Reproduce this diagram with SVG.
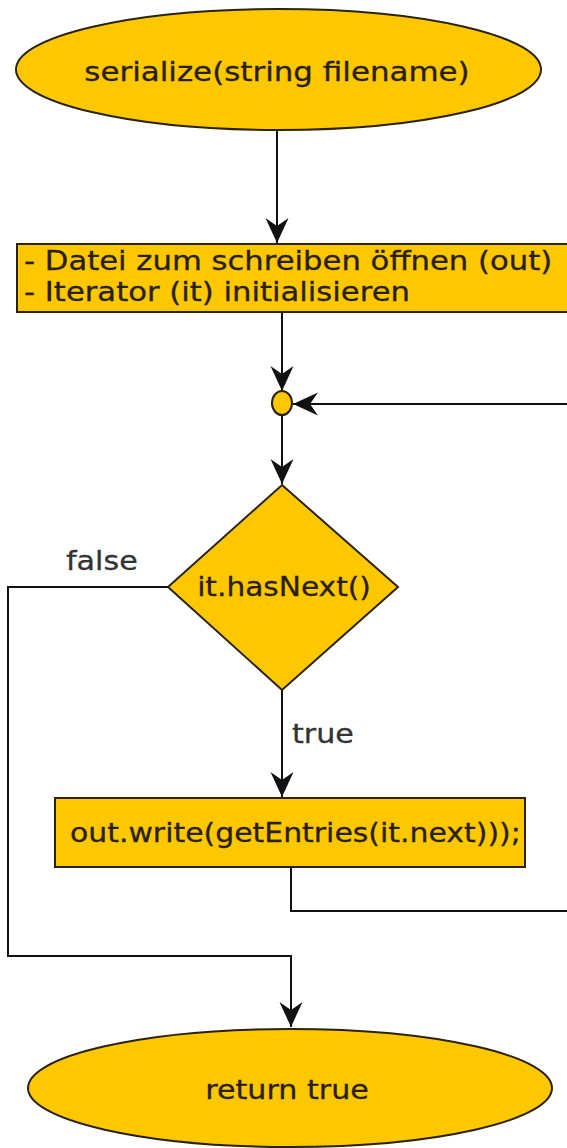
<svg xmlns="http://www.w3.org/2000/svg" width="567" height="1148" viewBox="0 0 567 1148">
<style>
.shape{fill:#fdc800;stroke:#2a2200;stroke-width:2}
.conn{fill:none;stroke:#111;stroke-width:2}
.t{font-family:"DejaVu Sans",Verdana,sans-serif;font-size:26px;fill:#2a2000;stroke:#2a2000;stroke-width:0.3}
.lbl{font-family:"DejaVu Sans",Verdana,sans-serif;font-size:26px;fill:#333;stroke:#333;stroke-width:0.3}
</style>
<defs>
<marker id="arr" markerUnits="userSpaceOnUse" markerWidth="28" markerHeight="26" viewBox="-26 -13 28 26" refX="0" refY="0" orient="auto">
<path d="M0,0 L-25,-11.5 L-17,0 L-25,11.5 Z" fill="#111"/>
</marker>
</defs>
<rect width="567" height="1148" fill="#fff"/>
<g id="connectors">
<path class="conn" d="M277,130 V243" marker-end="url(#arr)"/>
<path class="conn" d="M282,312 V391" marker-end="url(#arr)"/>
<path class="conn" d="M567,404 H293" marker-end="url(#arr)"/>
<path class="conn" d="M282,415 V484" marker-end="url(#arr)"/>
<path class="conn" d="M168,587 H8 V956 H291 V1027" marker-end="url(#arr)"/>
<path class="conn" d="M282,690 V797" marker-end="url(#arr)"/>
<path class="conn" d="M291,867 V911 H567"/>
<text class="lbl" transform="translate(66,570) scale(1.16,1)">false</text>
<text class="lbl" transform="translate(292,743) scale(1.16,1)">true</text>
</g>
<g id="start">
<ellipse class="shape" cx="278.5" cy="69.5" rx="262.5" ry="60.5"/>
<text class="t" text-anchor="middle" transform="translate(277,81) scale(1.19,1)">serialize(string filename)</text>
</g>
<g id="init">
<rect class="shape" x="17" y="244" width="560" height="68"/>
<text class="t" transform="translate(24,270) scale(1.18,1)">- Datei zum schreiben öffnen (out)</text>
<text class="t" transform="translate(24,301) scale(1.18,1)">- Iterator (it) initialisieren</text>
</g>
<g id="junction">
<ellipse class="shape" cx="282" cy="403" rx="10" ry="12"/>
</g>
<g id="decision">
<polygon class="shape" points="282,485 398,587 282,690 168,587"/>
<text class="t" text-anchor="middle" transform="translate(284,596) scale(1.14,1)">it.hasNext()</text>
</g>
<g id="write">
<rect class="shape" x="55" y="798" width="470" height="69"/>
<text class="t" transform="translate(70,842) scale(1.15,1)">out.write(getEntries(it.next)));</text>
</g>
<g id="end">
<ellipse class="shape" cx="290" cy="1088" rx="262" ry="59"/>
<text class="t" text-anchor="middle" transform="translate(287,1099) scale(1.16,1)">return true</text>
</g>
</svg>
